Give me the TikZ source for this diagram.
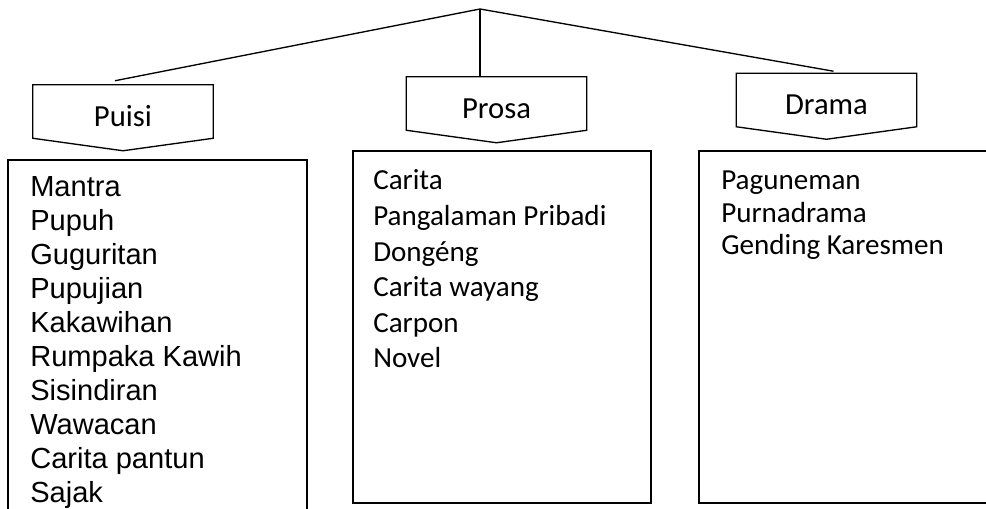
\documentclass[tikz,border=0pt]{standalone}
\usepackage{fontspec}
\setmainfont{Carlito}
\newfontfamily\arialfont{Liberation Sans}
\usetikzlibrary{calc,positioning}

\tikzset{
  link/.style={line width=1pt, black},
  frame/.style={line width=1.4pt, black},
  tag/.style={minimum width=135pt, minimum height=39.75pt, inner sep=0pt,
    text height=22.5pt, text depth=0pt,
    font=\fontsize{23}{27}\selectfont},
  item/.style={anchor=base west, inner sep=0pt,
    font=\fontsize{21.8}{26}\selectfont},
  arialitem/.style={item, font=\arialfont\fontsize{21.8}{26}\selectfont}
}

\begin{document}
\begin{tikzpicture}[x=0.75pt, y=-0.75pt]
  % page frame, 986 x 509 px
  \useasboundingbox (0,0) rectangle (986,509);
  \clip (0,0) rectangle (986,509);
  \def\tip{12.5}   % drop of the pentagon point
  \def\boxtop{151} % top of the prosa / drama lists
  \def\boxbot{503} % bottom of the prosa / drama lists

  % category tags (pentagons pointing down)
  \node[tag] (puisi) at (123,111.5) {Puisi};
  \node[tag] (prosa) at (496.5,103.5) {Prosa};
  \node[tag] (drama) at (826.5,100) {Drama};
  \foreach \t in {puisi,prosa,drama}
    \draw[link] (\t.north west) -- (\t.north east) -- (\t.south east)
      -- ($(\t.south)+(0,\tip)$) -- (\t.south west) -- cycle;

  % branches from the top
  \coordinate (top) at (480,9);
  \draw[link] (top) -- ([shift={(-8,-4)}]puisi.north);
  \draw[link] (top) -- (top |- prosa.north);
  \draw[link] (top) -- ([shift={(7,-2)}]drama.north);

  % list boxes
  \draw[frame] (8,520) -- (8,160) -- (307,160) -- (307,520);
  \draw[frame] (353,\boxtop) rectangle (651,\boxbot);
  \draw[frame] (995,\boxtop) -- (699,\boxtop) -- (699,\boxbot) -- (995,\boxbot);

  % Puisi
  \foreach \w [count=\i] in {Mantra,Pupuh,Guguritan,Pupujian,Kakawihan,
      Rumpaka Kawih,Sisindiran,Wawacan,Carita pantun,Sajak}
    \node[arialitem] (puisi-\i) at (30,{197+(\i-1)*34}) {\w};

  % Prosa
  \foreach \w [count=\i] in {Carita,Pangalaman Pribadi,Dongéng,
      Carita wayang,Carpon,Novel}
    \node[item] (prosa-\i) at (373,{190+(\i-1)*35.6}) {\w};

  % Drama
  \foreach \w [count=\i] in {Paguneman,Purnadrama,Gending Karesmen}
    \node[item] (drama-\i) at (721,{190+(\i-1)*32.5}) {\w};
\end{tikzpicture}
\end{document}
